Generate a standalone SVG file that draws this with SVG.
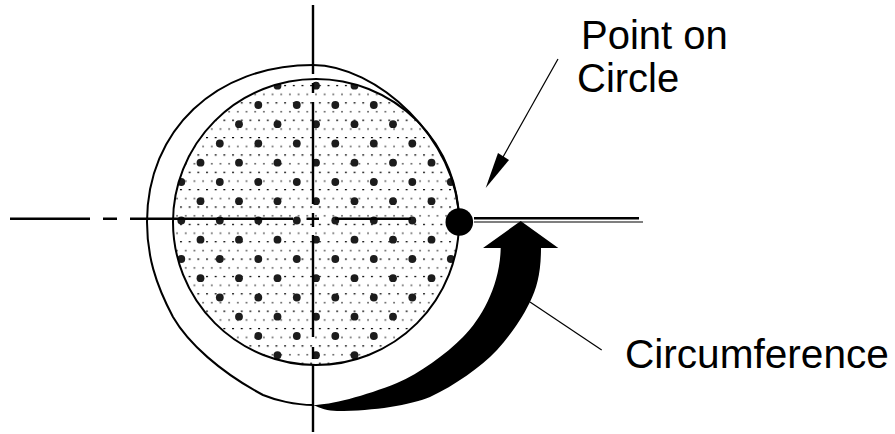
<svg xmlns="http://www.w3.org/2000/svg" width="895" height="434" viewBox="0 0 895 434">
<style>
.l{font-family:"Liberation Sans",Arial,sans-serif;font-size:40px;fill:#000}
.c{stroke:#000;fill:none;stroke-width:2}
.a{stroke:#000;stroke-width:2.4;fill:none}
.t{stroke:#000;stroke-width:1.2;fill:none}
.d circle{r:3.9px;fill:#1c1c1c}
</style>
<defs>
<pattern id="fine" patternUnits="userSpaceOnUse" x="206" y="137" width="8.68" height="17.36">
<rect x="0" y="0" width="2" height="1.2" fill="#000"/>
<rect x="5" y="8.6" width="1.6" height="1.6" fill="#555"/>
</pattern>
<clipPath id="disc"><circle cx="316" cy="222" r="143"/></clipPath>
</defs>
<rect width="895" height="434" fill="#fff"/>
<g id="disc-node">
<circle cx="316" cy="222" r="143" fill="url(#fine)"/>
<g class="d" clip-path="url(#disc)">
<circle cx="277.5" cy="85.7"/><circle cx="316" cy="85.7"/><circle cx="354.5" cy="85.7"/>
<circle cx="258.3" cy="105"/><circle cx="296.8" cy="105"/><circle cx="335.3" cy="105"/><circle cx="373.8" cy="105"/>
<circle cx="239" cy="124.2"/><circle cx="277.5" cy="124.2"/><circle cx="316" cy="124.2"/><circle cx="354.5" cy="124.2"/><circle cx="393" cy="124.2"/>
<circle cx="219.8" cy="143.5"/><circle cx="258.3" cy="143.5"/><circle cx="296.8" cy="143.5"/><circle cx="335.3" cy="143.5"/><circle cx="373.8" cy="143.5"/><circle cx="412.3" cy="143.5"/>
<circle cx="200.5" cy="162.7"/><circle cx="239" cy="162.7"/><circle cx="277.5" cy="162.7"/><circle cx="316" cy="162.7"/><circle cx="354.5" cy="162.7"/><circle cx="393" cy="162.7"/><circle cx="431.5" cy="162.7"/>
<circle cx="181.3" cy="182"/><circle cx="219.8" cy="182"/><circle cx="258.3" cy="182"/><circle cx="296.8" cy="182"/><circle cx="335.3" cy="182"/><circle cx="373.8" cy="182"/><circle cx="412.3" cy="182"/><circle cx="450.8" cy="182"/>
<circle cx="200.5" cy="201.2"/><circle cx="239" cy="201.2"/><circle cx="277.5" cy="201.2"/><circle cx="316" cy="201.2"/><circle cx="354.5" cy="201.2"/><circle cx="393" cy="201.2"/><circle cx="431.5" cy="201.2"/>
<circle cx="181.3" cy="220.5"/><circle cx="219.8" cy="220.5"/><circle cx="258.3" cy="220.5"/><circle cx="296.8" cy="220.5"/><circle cx="335.3" cy="220.5"/><circle cx="373.8" cy="220.5"/><circle cx="412.3" cy="220.5"/>
<circle cx="200.5" cy="239.7"/><circle cx="239" cy="239.7"/><circle cx="277.5" cy="239.7"/><circle cx="316" cy="239.7"/><circle cx="354.5" cy="239.7"/><circle cx="393" cy="239.7"/><circle cx="431.5" cy="239.7"/>
<circle cx="181.3" cy="259"/><circle cx="219.8" cy="259"/><circle cx="258.3" cy="259"/><circle cx="296.8" cy="259"/><circle cx="335.3" cy="259"/><circle cx="373.8" cy="259"/><circle cx="412.3" cy="259"/><circle cx="450.8" cy="259"/>
<circle cx="200.5" cy="278.2"/><circle cx="239" cy="278.2"/><circle cx="277.5" cy="278.2"/><circle cx="316" cy="278.2"/><circle cx="354.5" cy="278.2"/><circle cx="393" cy="278.2"/><circle cx="431.5" cy="278.2"/>
<circle cx="219.8" cy="297.5"/><circle cx="258.3" cy="297.5"/><circle cx="296.8" cy="297.5"/><circle cx="335.3" cy="297.5"/><circle cx="373.8" cy="297.5"/><circle cx="412.3" cy="297.5"/>
<circle cx="239" cy="316.7"/><circle cx="277.5" cy="316.7"/><circle cx="316" cy="316.7"/><circle cx="354.5" cy="316.7"/><circle cx="393" cy="316.7"/>
<circle cx="258.3" cy="336"/><circle cx="296.8" cy="336"/><circle cx="335.3" cy="336"/><circle cx="373.8" cy="336"/>
<circle cx="277.5" cy="355.2"/><circle cx="316" cy="355.2"/><circle cx="354.5" cy="355.2"/>
</g>
<circle class="c" cx="316" cy="222" r="143"/>
</g>
<g id="connectors">
<path class="a" d="M313 5V74M313 83V93M313 102V204M313 213V227M313 235V337M313 347V359M313 365V432"/>
<path class="a" d="M10 218.7H90M103 218.7H117M130 218.7H293M306.5 218.7H319M335 218.7H411"/>
<path class="a" d="M474 218.3H639"/>
<path class="t" d="M474 222H643"/>
<path class="c" d="M459 222C459 138 375 65 313 65C216 65 147 130 147 222C147 255 155 283 173 317C188 343 220 372 263 395C275 400 295 405 313 405"/>
<path class="t" d="M530 302L601.7 350"/>
<path class="t" d="M558 59L503 157"/>
<path d="M485.7 188L498 153L509 160Z" fill="#000"/>
<path id="swoosh" fill="#000" d="M313 405C330 405 365 396 397 383C420 373 445 355 463 337C482 318 500 285 500.7 248H483L520.7 221L558.3 248H541C541 272 537 288 530 302C520 322 510 335 497 350C480 368 455 385 430 397C410 405 375 411 337 411C328 411 320 408 313 405Z"/>
</g>
<g id="point"><circle cx="459.3" cy="222" r="13.8" fill="#000"/></g>
<g id="label-point"><text class="l" x="581" y="49">Point on</text><text class="l" x="577" y="92">Circle</text></g>
<g id="label-circumference"><text class="l" x="625" y="368" style="font-size:40.6px">Circumference</text></g>
</svg>
